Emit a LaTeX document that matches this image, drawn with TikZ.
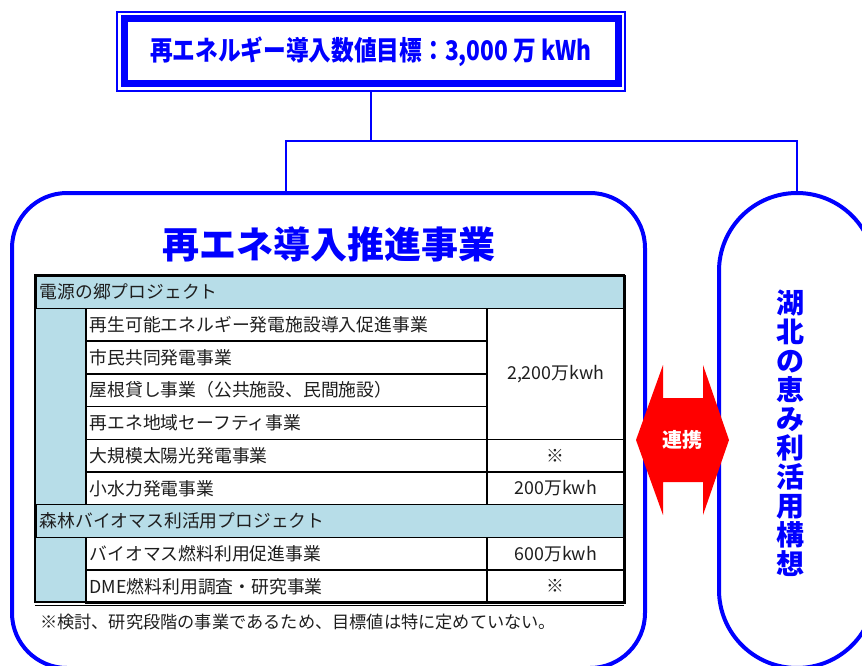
\documentclass[tikz,border=0pt]{standalone}
\usepackage{fontspec}
\usepackage{xcolor}
\usepackage{tikz}
\usetikzlibrary{positioning, calc}
\setmainfont{Noto Sans CJK JP}
\newfontfamily\jpnarrow{Noto Sans CJK JP}[FakeStretch=0.84]
\definecolor{goalblue}{RGB}{0,0,255}
\definecolor{rowblue}{RGB}{183,221,232}
\definecolor{linkred}{RGB}{255,0,0}
\definecolor{cellink}{RGB}{30,30,30}

\begin{document}
\begin{tikzpicture}[x=1pt, y=-1pt, line join=miter]
  \tikzstyle{panel} = [draw=goalblue, line width=4pt, inner sep=0pt]
  \tikzstyle{wire} = [draw=goalblue, line width=2pt]
  \tikzstyle{itembox} = [draw=black, line width=1.5pt, fill=white, anchor=north west, minimum height=32.7pt, text width=393pt, inner xsep=4pt, inner ysep=0pt, align=left, text=cellink, font=\fontsize{17.8}{17.8}\selectfont]
  \tikzstyle{valuebox} = [itembox, text width=130pt, align=center]
  \tikzstyle{groupbox} = [itembox, fill=rowblue, text width=581pt]

  \useasboundingbox (0,0) rectangle (862,666);

  \node[draw=goalblue, line width=7pt, minimum width=494pt, minimum height=65pt, text=goalblue, font=\jpnarrow\bfseries\fontsize{27}{27}\selectfont] (Goal) at (371,51.5) {再エネルギー導入数値目標：3,000 万 kWh};
  \node[draw=goalblue, line width=1.5pt, minimum width=508pt, minimum height=79pt] (GoalFrame) at (Goal) {};

  \node[panel, minimum width=633pt, minimum height=475pt, rounded corners=55pt] (Promotion) at (328.5,430.5) {};
  \node[panel, minimum width=156pt, minimum height=475pt, rounded corners=78pt] (Vision) at (797,430.5) {};

  \coordinate (Fork) at (371,141);
  \coordinate (PromoIn) at (286,193);
  \draw[wire] (GoalFrame.south) -- (Fork);
  \draw[wire] (Fork) -| (PromoIn);
  \draw[wire] (Fork) -| (Vision.north);

  \node[text=goalblue, font=\bfseries\fontsize{37}{37}\selectfont] (PromoTitle) at ($(Promotion.north)+(0,53)$) {再エネ導入推進事業};

  \fill[rowblue] (35,275) rectangle (624,602);
  \node[groupbox] (GroupPower) at (35,275) {電源の郷プロジェクト};
  \foreach \k/\txt in {1/再生可能エネルギー発電施設導入促進事業, 2/市民共同発電事業, 3/屋根貸し事業（公共施設、民間施設）, 4/再エネ地域セーフティ事業, 5/大規模太陽光発電事業, 6/小水力発電事業, 8/バイオマス燃料利用促進事業, 9/DME燃料利用調査・研究事業}
    \node[itembox] (Item\k) at (85,{275+\k*32.7}) {\txt};
  \node[groupbox] (GroupBiomass) at (35,{275+7*32.7}) {森林バイオマス利活用プロジェクト};
  \node[valuebox, minimum height=130.8pt] (ValPower) at (486,307.7) {2,200万kwh};
  \node[valuebox] (ValSolar) at (486,438.5) {※};
  \node[valuebox] (ValHydro) at (486,471.2) {200万kwh};
  \node[valuebox] (ValFuel) at (486,536.6) {600万kwh};
  \node[valuebox] (ValDme) at (486,569.3) {※};
  \draw[line width=2.5pt] (35,275) rectangle (624,602);
  \draw[line width=1pt] (35,605.5) -- (624,605.5);

  \node[anchor=west, inner sep=0pt, text=cellink, font=\fontsize{17.2}{17.2}\selectfont] (Note) at (40,622) {※検討、研究段階の事業であるため、目標値は特に定めていない。};

  \node[text=goalblue, align=center, font=\bfseries\fontsize{28}{29}\selectfont] (VisionTitle) at (790,433) {湖\\北\\の\\恵\\み\\利\\活\\用\\構\\想};

  \fill[linkred] (636,440) -- ++(27,-75) -- ++(0,33) -- ++(40,0) -- ++(0,-33) -- ++(26,75) -- ++(-26,75) -- ++(0,-33) -- ++(-40,0) -- ++(0,33) -- cycle;
  \node[text=white, font=\bfseries\fontsize{20}{20}\selectfont] (Link) at (682.5,440) {連携};
\end{tikzpicture}
\end{document}
